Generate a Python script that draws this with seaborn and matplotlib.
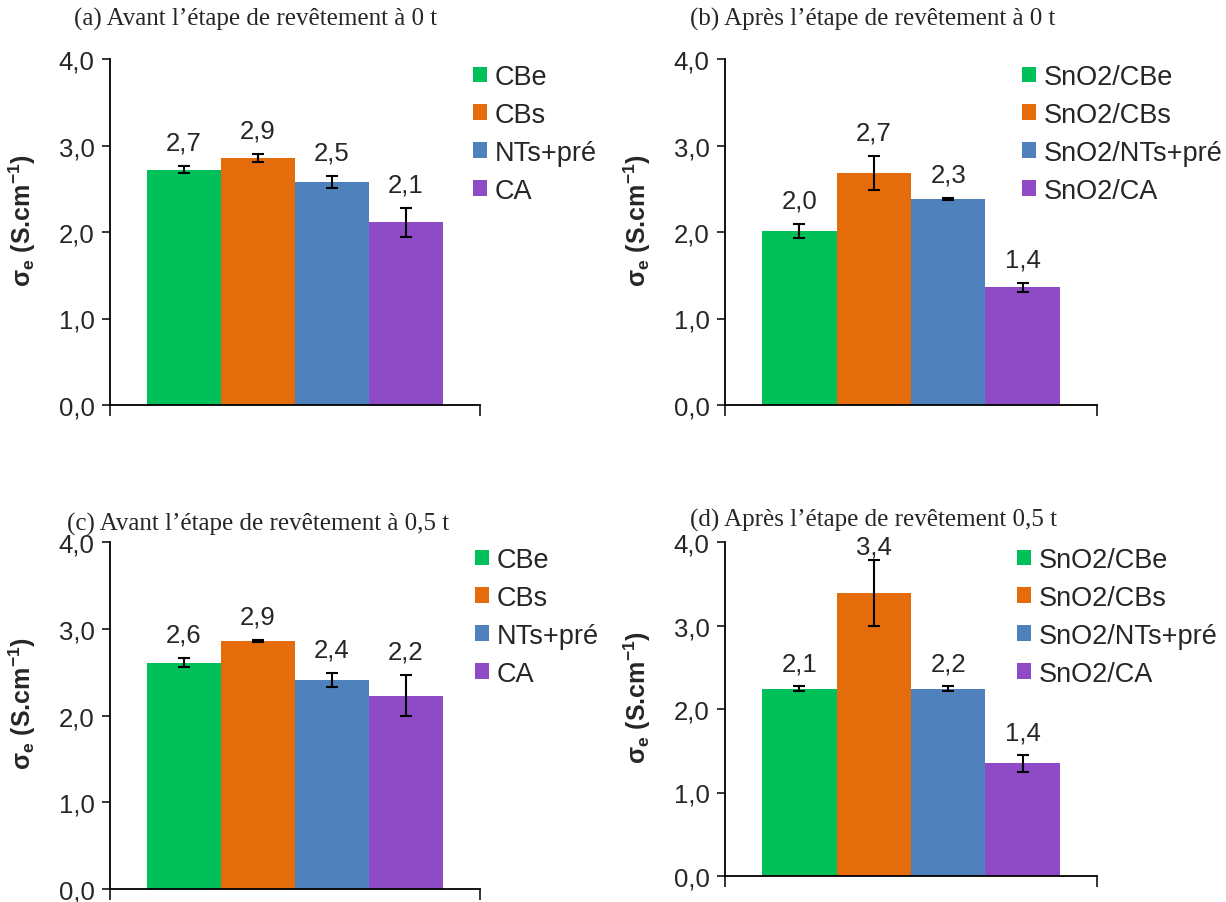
import numpy as np
import pandas as pd
import seaborn as sns
import matplotlib.pyplot as plt
from matplotlib.ticker import FuncFormatter

# data
series_before = ["CBe", "CBs", "NTs+pré", "CA"]
series_after = ["SnO2/CBe", "SnO2/CBs", "SnO2/NTs+pré", "SnO2/CA"]
colors = ["#00C05A", "#E46C0A", "#4F81BD", "#8F4BC6"]

a_vals = [2.72, 2.86, 2.58, 2.11]
a_err = [0.04, 0.045, 0.07, 0.17]
a_labels = ["2,7", "2,9", "2,5", "2,1"]

b_vals = [2.01, 2.68, 2.38, 1.36]
b_err = [0.085, 0.20, 0.01, 0.055]
b_labels = ["2,0", "2,7", "2,3", "1,4"]

c_vals = [2.61, 2.86, 2.41, 2.23]
c_err = [0.05, 0.01, 0.08, 0.24]
c_labels = ["2,6", "2,9", "2,4", "2,2"]

d_vals = [2.24, 3.39, 2.24, 1.35]
d_err = [0.03, 0.40, 0.03, 0.10]
d_labels = ["2,1", "3,4", "2,2", "1,4"]

titles = ["(a) Avant l’étape de revêtement à 0 t",
          "(b) Après l’étape de revêtement à 0 t",
          "(c) Avant l’étape de revêtement à 0,5 t",
          "(d) Après l’étape de revêtement 0,5 t"]

sns.set_style("ticks")
plt.rcParams['font.family'] = ['Liberation Sans', 'DejaVu Sans']
plt.rcParams['mathtext.default'] = 'regular'

W, H = 1226, 903
fig = plt.figure(figsize=(W / 100, H / 100), dpi=100)


def px(x0, y0, x1, y1):
    # pixel box -> figure fraction rect
    return [x0 / W, 1 - y1 / H, (x1 - x0) / W, (y1 - y0) / H]


panels = [
    # axes box, series, vals, errs, labels, title pos, ylabel x, legend anchor
    (px(110, 60, 480, 406), series_before, a_vals, a_err, a_labels, (256, 19), 22, (473, 65)),
    (px(725, 60, 1097, 406), series_after, b_vals, b_err, b_labels, (873, 19), 637, (1022, 65)),
    (px(110, 543, 480, 890), series_before, c_vals, c_err, c_labels, (258, 524), 22, (475, 548)),
    (px(725, 543, 1097, 877), series_after, d_vals, d_err, d_labels, (873, 520), 637, (1017, 548)),
]

for i, (rect, names, vals, errs, labs, tpos, ylx, lpos) in enumerate(panels):
    ax = fig.add_axes(rect)
    df = pd.DataFrame({"grp": [""] * 4, "serie": names, "val": vals})
    sns.barplot(data=df, x="grp", y="val", hue="serie", hue_order=names,
                palette=colors, errorbar=None, width=0.8, saturation=1,
                linewidth=0, ax=ax, legend=True)

    for cont, v, e, lab in zip(ax.containers, vals, errs, labs):
        bar = cont[0]
        xc = bar.get_x() + bar.get_width() / 2
        ax.errorbar(xc, v, yerr=e, fmt="none", ecolor="black", elinewidth=1.5,
                    capsize=4, capthick=1.5)
        # label sits above the error bar, kept inside the plot area
        ax.text(xc, min(v + e + 0.27, 3.95), lab, ha="center", va="center",
                fontsize=18.5)

    ax.set_ylim(0, 4)
    ax.set_xlim(-0.5, 0.5)
    ax.set_yticks(np.arange(0, 4.01, 1.0))
    ax.yaxis.set_major_formatter(FuncFormatter(lambda v, p: f"{v:.1f}".replace(".", ",")))
    ax.set_xticks([-0.5, 0.5])
    ax.set_xticklabels(["", ""])
    ax.tick_params(axis="y", labelsize=18.5, length=6, width=1.3, direction="out", pad=5)
    ax.tick_params(axis="x", length=8, width=1.3, direction="out")
    ax.set_xlabel("")
    ax.set_ylabel("")
    for s in ["top", "right"]:
        ax.spines[s].set_visible(False)
    for s in ["left", "bottom"]:
        ax.spines[s].set_linewidth(1.3)
        ax.spines[s].set_color("black")

    handles, labels = ax.get_legend_handles_labels()
    ax.legend(handles, labels, loc="upper left",
              bbox_to_anchor=(lpos[0] / W, 1 - lpos[1] / H),
              bbox_transform=fig.transFigure, frameon=False, fontsize=19.5,
              handlelength=0.52, handleheight=0.52, handletextpad=0.28,
              labelspacing=0.44, borderpad=0, borderaxespad=0)

    fig.text(tpos[0] / W, 1 - tpos[1] / H, titles[i], ha="center", va="center",
             fontsize=18, family="Liberation Serif")
    yc = (rect[1] + rect[3] * 0.537)
    fig.text(ylx / W, yc, "σ$_{e}$ (S.cm$^{-1}$)", rotation=90, ha="center",
             va="center", fontsize=18, fontweight="bold")

fig.savefig("out.png", dpi=100)
